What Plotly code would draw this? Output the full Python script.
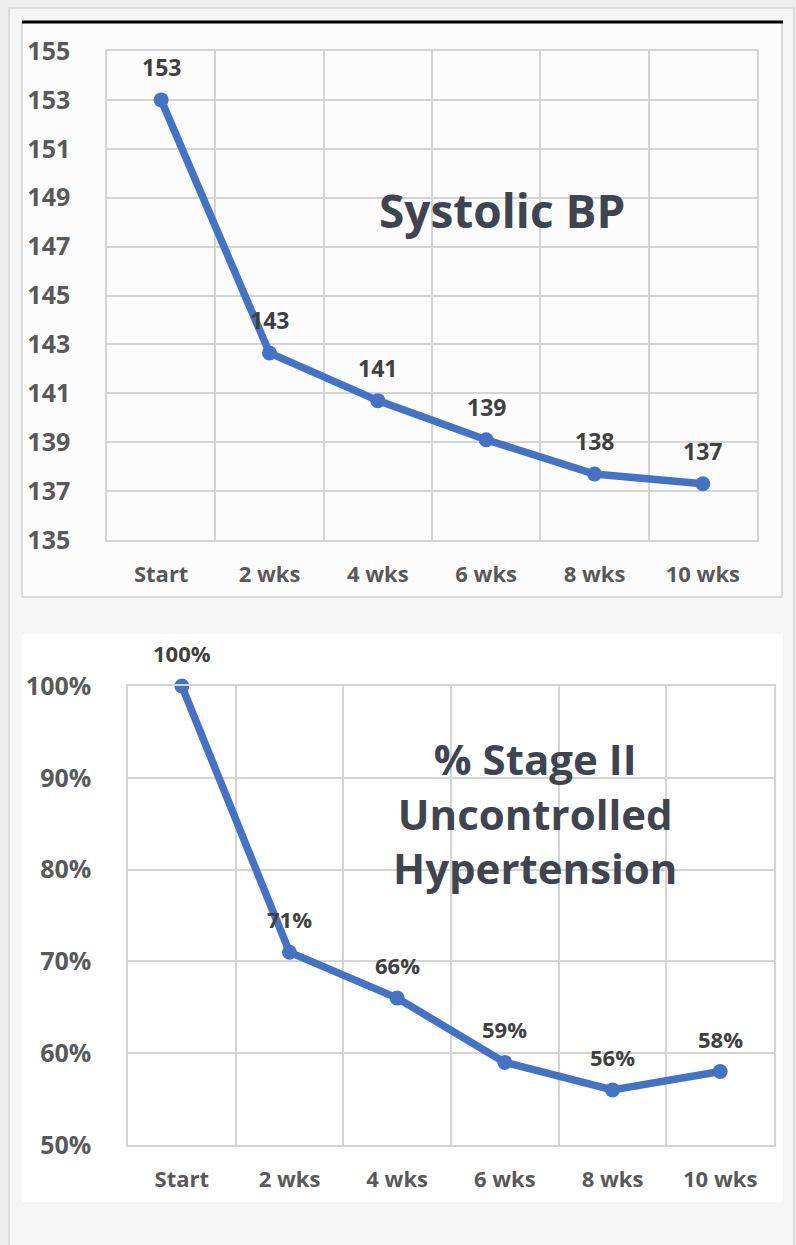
import plotly.graph_objects as go

W, H = 796, 1245

# ---------------- data ----------------
categories = ["Start", "2 wks", "4 wks", "6 wks", "8 wks", "10 wks"]
systolic_bp = [153, 142.65, 140.7, 139.1, 137.7, 137.3]
stage2_pct = [100, 71, 66, 59, 56, 58]
sys_ticks = [135, 137, 139, 141, 143, 145, 147, 149, 151, 153, 155]
pct_ticks = [50, 60, 70, 80, 90, 100]
pct_tick_text = ["50%", "60%", "70%", "80%", "90%", "100%"]
title_top = "Systolic BP"
title_bottom = "% Stage II<br>Uncontrolled<br>Hypertension"


def px(x):
    return x / W


def py(y):
    return 1 - y / H


BLUE = "#4472C4"
GRID = "#d4d4d4"
TICK_COL = "#595959"
LABEL_COL = "#404040"
TITLE_COL = "#40444f"
FONT = "Open Sans"

fig = go.Figure()

fig.add_trace(go.Scatter(
    x=categories, y=systolic_bp, mode="lines+markers",
    line=dict(color=BLUE, width=7.5), marker=dict(size=15, color=BLUE),
    xaxis="x", yaxis="y", cliponaxis=False, hoverinfo="x+y"))

fig.add_trace(go.Scatter(
    x=categories, y=stage2_pct, mode="lines+markers",
    line=dict(color=BLUE, width=7.5), marker=dict(size=15, color=BLUE),
    xaxis="x2", yaxis="y2", cliponaxis=False, hoverinfo="x+y"))

annotations = []
for c, v in zip(categories, systolic_bp):
    annotations.append(dict(x=c, y=v, xref="x", yref="y", text=f"{v:.0f}",
                            showarrow=False, yshift=33,
                            font=dict(family=FONT, size=23, color=LABEL_COL, weight="bold")))
for c, v in zip(categories, stage2_pct):
    annotations.append(dict(x=c, y=v, xref="x2", yref="y2", text=f"{v:.0f}%",
                            showarrow=False, yshift=33,
                            font=dict(family=FONT, size=22, color=LABEL_COL, weight="bold")))

annotations.append(dict(x=px(502), y=py(210), xref="paper", yref="paper",
                        text=title_top, showarrow=False, xanchor="center", yanchor="middle",
                        font=dict(family=FONT, size=46, color=TITLE_COL, weight="bold")))
annotations.append(dict(x=px(535), y=py(813), xref="paper", yref="paper",
                        text=title_bottom, showarrow=False, xanchor="center", yanchor="middle",
                        font=dict(family=FONT, size=42, color=TITLE_COL, weight="bold")))

shapes = [
    # outer frame
    dict(type="rect", xref="paper", yref="paper", x0=px(9), x1=px(794), y0=py(1260), y1=py(8),
         fillcolor="#f5f5f5", line=dict(color="#dcdcdc", width=2), layer="below"),
    # top panel
    dict(type="rect", xref="paper", yref="paper", x0=px(22), x1=px(782), y0=py(597), y1=py(22),
         fillcolor="#fcfcfc", line=dict(color="#d0d0d0", width=1.5), layer="below"),
    # bottom panel
    dict(type="rect", xref="paper", yref="paper", x0=px(22), x1=px(783), y0=py(1202), y1=py(634),
         fillcolor="#ffffff", line=dict(width=0), layer="below"),
    # black top rule
    dict(type="line", xref="paper", yref="paper", x0=px(22), x1=px(783), y0=py(22), y1=py(22),
         line=dict(color="#000000", width=3)),
]

xcommon = dict(type="category", range=[-0.5, 5.5], tickson="boundaries", showgrid=True,
               gridcolor=GRID, gridwidth=1.5, ticks="", showline=True, linecolor=GRID,
               linewidth=1.5, mirror=True, zeroline=False, ticklabelstandoff=14,
               automargin=False,
               tickfont=dict(family=FONT, size=22, color=TICK_COL, weight="bold"))
ycommon = dict(showgrid=True, gridcolor=GRID, gridwidth=1.5, ticks="", showline=True,
               linecolor=GRID, linewidth=1.5, mirror=True, zeroline=False,
               ticklabelstandoff=30, automargin=False,
               tickfont=dict(family=FONT, size=25, color=TICK_COL, weight="bold"))

fig.update_layout(
    width=W, height=H, margin=dict(l=0, r=0, t=0, b=0, autoexpand=False),
    paper_bgcolor="#eeeeee", plot_bgcolor="rgba(0,0,0,0)",
    showlegend=False,
    xaxis=dict(domain=[px(107), px(757)], anchor="y", **xcommon),
    yaxis=dict(domain=[py(540), py(51)], anchor="x", range=[135, 155],
               tickvals=sys_ticks, **ycommon),
    xaxis2=dict(domain=[px(128), px(774)], anchor="y2", **xcommon),
    yaxis2=dict(domain=[py(1145), py(686)], anchor="x2", range=[50, 100],
                tickmode="array", tickvals=pct_ticks, ticktext=pct_tick_text, **ycommon),
    annotations=annotations, shapes=shapes,
)

fig.write_html("out.html", config={"displayModeBar": False},
               post_script="document.body.style.margin='0';document.body.style.padding='0';")
